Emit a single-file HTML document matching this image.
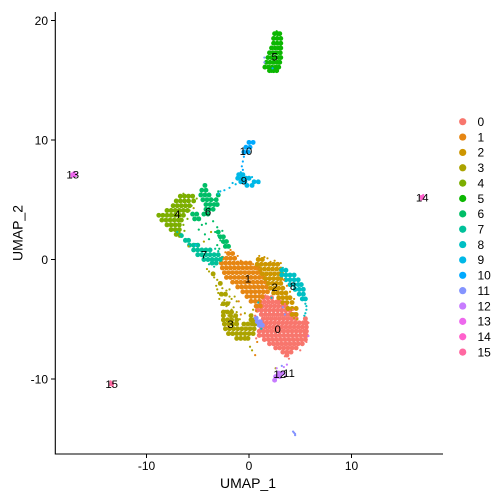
<!DOCTYPE html>
<html>
<head>
<meta charset="utf-8">
<style>
html,body{margin:0;padding:0;background:#fff;width:504px;height:504px;overflow:hidden}
svg{display:block}
text{font-family:"Liberation Sans",Arial,sans-serif;fill:#000}
</style>
</head>
<body>
<svg id="chart" xmlns="http://www.w3.org/2000/svg" width="504" height="504" viewBox="0 0 504 504"></svg>
<script>
// Each row is [y, x1, x2, ...] in UMAP coordinates.
const clusterNames = ['0','1','2','3','4','5','6','7','8','9','10','11','12','13','14','15'];
const clusterColors = ['#F8766D','#E68613','#CD9600','#ABA300','#7CAE00','#0CB702','#00BE67','#00C19A','#00BFC4','#00B8E7','#00A9FF','#8494FF','#C77CFF','#ED68ED','#FF61CC','#FF68A1'];
const xTicks = [-10,0,10];
const yTicks = [-10,0,10,20];
const labelX = [2.8,-0.1,2.5,-1.8,-7,2.5,-4,-4.4,4.3,-0.5,-0.3,3.9,3,-17.2,16.9,-13.4];
const labelY = [-5.8,-1.6,-2.3,-5.4,3.8,17,4,0.4,-2.2,6.6,9.1,-9.5,-9.6,7.1,5.2,-10.4];

const dense1 = [[0.5,-2,-1.6],[0.1,-2.6,-2.2,-1.8,-1.4],[-0.3,-2.7,-2.3,-1.9,-1.5,-1.1,-0.7,-0.3,0.1],[-0.7,-2.6,-2.2,-1.8,-1.4,-1,-0.6,-0.2,0.2,0.6,0.9],[-1.1,-2.4,-2,-1.6,-1.2,-0.8,-0.4,0,0.4,0.8,1.1],[-1.5,-2.2,-1.8,-1.4,-1,-0.6,-0.2,0.2,0.6,1,1.4],[-1.9,-1.6,-1.2,-0.8,-0.4,0,0.4,0.8,1.2,1.6],[-2.3,-1.1,-0.7,-0.3,0.1,0.5,0.9,1.3,1.7],[-2.7,-0.6,-0.2,0.2,0.6,1,1.4,1.8],[-3.1,-0.2,0.2,0.6,1,1.3],[-3.5,0.2,0.6,1],[-3.9,0.7,1.1]];
const dense2 = [[0,0.9,1.3],[-0.4,0.8,1.2,1.6,2,2.4,2.8],[-0.8,1.1,1.5,1.9,2.3,2.7,3.1],[-1.2,1.3,1.7,2.1,2.5,2.9,3.2],[-1.6,1.6,2,2.4,2.8,3.1],[-2,1.9,2.3,2.7,3.1],[-2.4,2.1,2.5,2.9,3.3],[-2.8,2.4,2.8,3.2,3.6],[-3.2,2.9,3.3,3.7,4],[-3.6,3.3,3.7,4.2],[-4.1,3.8,4.2,4.6],[-4.6,4.2,4.6]];
const dense0 = [[-3.2,1.4,1.8,2.2],[-3.55,1.1,1.5,1.9,2.3,2.7,3],[-3.9,0.9,1.3,1.7,2.1,2.5,2.9,3.3,3.6],[-4.25,0.8,1.2,1.6,2,2.4,2.8,3.2,3.6,4],[-4.6,1.2,1.6,2,2.4,2.8,3.2,3.6,4,4.4],[-4.95,1.4,1.8,2.2,2.6,3,3.4,3.8,4.2,4.6,5.5],[-5.3,1.3,1.7,2.1,2.5,2.9,3.3,3.7,4.1,4.5,4.9,5.3,5.6],[-5.65,1.2,1.6,2,2.4,2.8,3.2,3.6,4,4.4,4.8,5.2,5.6],[-6,1,1.4,1.8,2.2,2.6,3,3.4,3.8,4.2,4.6,5,5.4,5.6],[-6.35,1,1.4,1.8,2.2,2.6,3,3.4,3.8,4.2,4.6,5,5.4,5.6],[-6.7,1.5,1.9,2.3,2.7,3.1,3.5,3.9,4.3,4.7,5.1,5.5],[-7.05,2,2.4,2.8,3.2,3.6,4,4.4,4.8,5.2],[-7.4,2.6,3,3.4,3.8,4.2,4.6],[-7.75,3.3,3.7,4.1],[-8,3.7]];
const dense3 = [[-1.2,-3.5],[-2,-2.8],[-2.9,-2.7,-2.3],[-3.7,-2.5,-2.1],[-4.4,-2.5,-2.1,-1.7],[-4.7,-2.5,-1.8,-1.3,0.2],[-5.05,-2.5,-2.1,-1.7,-1.2,0.2,0.5],[-5.4,-2.4,-2,-1.6,-1.2,-0.5,-0.1,0.3,0.6],[-5.8,-2.3,-1.9,-1.5,-1.1,-0.7,-0.3,0.1,0.5],[-6.2,-2,-1.6,-1.2,-0.8,-0.4,0,0.4],[-6.6,-1.2,-0.8,-0.4,-0.1]];
const dense4 = [[5.3,-6.7,-6.3,-5.9,-5.5],[4.9,-7.1,-6.7,-6.3,-5.9,-5.4],[4.5,-7.4,-7,-6.6,-6.2,-5.8],[4.1,-8,-7.6,-7.2,-6.8,-6.4,-6],[3.7,-8.8,-8.4,-8,-7.6,-7.2,-6.8,-6.4],[3.3,-8.5,-8.1,-7.7,-7.3,-6.9,-6.6],[2.9,-8,-7.6,-7.2,-6.8],[2.5,-7.6,-7.2,-6.8],[2.1,-7.1,-6.8]];
const dense5 = [[18.9,2.5,2.8,3],[18.5,2.4,2.75,3.1],[18.1,2.4,2.75,3.1],[17.7,2.2,2.55,2.9,3.1],[17.3,2,2.35,2.7,3.05],[16.9,1.85,2.2,2.55,2.9,3.1],[16.5,1.7,2.05,2.4,2.75,3],[16.1,1.55,1.9,2.25,2.6,2.9],[15.8,2,2.4,2.7]];
const dense6 = [[6.2,-4.3],[5.8,-4.6,-4.2],[5.4,-4.7,-4.3,-3.9,-3],[5,-4.5,-4.1,-3.7,-3.2],[4.6,-4.2,-3.8,-3.4,-3.1],[4.2,-4.2,-3.9,-3.5],[3.8,-5.5,-5.1,-4.4,-4],[3.4,-5.3,-4.9],[2.3,-3],[1.9,-2.8,-2.5],[1.5,-2.5,-2.2],[1.1,-2.3,-2]];
const dense7 = [[2,-6.6],[1.6,-6.2,-5.9],[1.2,-5.8,-5.4,-5],[0.8,-5.4,-5,-4.6,-4.2,-3.8],[0.4,-5,-4.6,-4.2,-3.8,-3.4,-3],[0,-4.4,-4,-3.6,-3.2,-2.8],[-0.3,-3.6,-3.2]];
const dense8 = [[-0.9,3.2,3.6],[-1.3,3.2,3.6,4,4.4],[-1.7,3.6,4,4.4,4.8],[-2.1,4,4.4,4.8,5.1],[-2.5,4.5,4.9,5.3],[-2.9,4.9,5.3],[-3.3,5.2,5.5]];
const dense9 = [[7.1,-1,-0.6],[6.8,-1.1,-0.7,-0.3,0],[6.5,-0.8,-0.4,0.5,0.9],[6.2,-0.2,0.3]];
const dense10 = [[9.8,0,0.4],[9.4,-0.3,0.1],[9,-0.5,-0.1]];
const dense11 = [[-4.9,0.7],[-5.2,0.8,1.1],[-5.5,1,1.3]];
const dense12 = [[-9.5,2.9,3.3],[-9.8,2.6,3],[-10.1,2.5]];
const dense13 = [[7.1,-17.2,-17]];
const dense14 = [[5.2,16.9]];
const dense15 = [[-10.4,-13.4]];

const sparse0 = [[-3,1.6],[-3.7,3.5],[-4.2,4.3],[-8.1,3.5],[-8.3,3.9],[-7.6,5],[-6.9,5.6],[-4.7,0.6],[-6.6,0.7],[-5.3,5.8]];
const sparse1 = [[0.8,-1.8],[0.6,-2.3],[0.3,-1.1],[-0.1,-0.8],[-0.4,0.4],[-0.8,1],[-4.3,0.7],[-4.6,-0.8],[-3.5,-1],[-8,0.6],[-1.7,3.4],[-2.2,3.7],[-6.9,0.8],[-5.6,-2]];
const sparse2 = [[0.3,1],[0.2,1.5],[-0.2,2.1],[-0.3,3.1],[-4.9,4.4],[-5,4.7],[-3.3,4.4],[-2.7,4],[0.1,1.8],[-0.1,2.5]];
const sparse3 = [[-0.8,-4.1],[-1,-3.9],[-1.2,-3.6],[-1.5,-3.4],[-1.7,-3.1],[-2,-2.8],[-2.2,-3.2],[-2.5,-3.1],[-2.4,-2.6],[-2.8,-3],[-3,-2.6],[-3,-2.2],[-3.3,-2.9],[-3.4,-2.4],[-3.6,-1.9],[-3.8,-2.7],[-3.9,-2.2],[-4,-1.5],[-4.3,-2.3],[-4.2,-1.7],[-4.4,-1.2],[-4.6,-2.5],[-4.7,-2],[-4.8,-1.5],[-4.2,0.4],[-4.6,0.3],[-5,0.2],[-5,-0.9],[-5.2,-1.3],[-3.3,-1.7],[-7.3,0.1],[-7.6,0.3],[-9.1,2.6],[-2.5,-1.9],[1.5,-4.4],[2.3,-3.7],[1.1,-5.9],[4.3,-5.4],[-2.6,-2.2],[-3.1,-1.4],[-3.5,-1.2],[-4,-0.8],[-4.5,-0.4],[-3.1,-1.9],[-2.8,-2.3],[-3.6,-2.2]];
const sparse4 = [[5.5,-6.4],[5.2,-5.5],[5.1,-5.1],[4.5,-5.6],[4.1,-5.8],[3.4,-6],[2.9,-6.4],[2.4,-6.3],[1.9,-6.8]];
const sparse5 = [[19.1,2.7],[15.7,2.2]];
const sparse6 = [[5.7,-3],[5,-3.5],[4.3,-3.5],[3,-4.2],[2.7,-3.1],[2.3,-3.3],[2,-3],[1.9,-2.6],[1.6,-2.8],[1.4,-2.4],[1.1,-2.1],[2.4,-2.6],[1.5,-2.1],[3.2,-3.5],[2.9,-4.6],[2.5,-4.9],[2.1,-4.3],[1.7,-3.9],[1.2,-3.1],[0.9,-2.9]];
const sparse7 = [[2.3,-7],[1.3,-5.2],[0.9,-3.3],[0.7,-3],[-0.4,-3.9],[-0.6,-3.4],[0.2,-2.6]];
const sparse8 = [[-0.7,3.3],[-3.7,5.5],[-3.9,5.6],[-4.2,5.6],[-4.5,5.5],[-4.7,5.4],[-5.8,1.2],[-3.2,2.2],[-3.6,0.9]];
const sparse9 = [[6.4,-1.6],[6.3,-1.3],[6,-1.9],[5.8,-2.4],[5.7,-2.8],[5.5,-3],[7.3,-0.8],[6.9,0.3],[6.4,1],[1.2,-5.2]];
const sparse10 = [[8.6,-0.5],[8.2,-0.6],[7.8,-0.7],[7.5,-0.6],[8.9,-0.4],[16,2.3]];
const sparse11 = [[-14.4,4.3],[-14.5,4.4],[-14.6,4.5],[-14.7,4.5],[16.5,1.5],[16.9,1.5],[-4,3.3],[-4.6,3.5],[-8.9,3.2]];
const sparse12 = [[-9.1,2.7],[-9,3.4],[-8.8,3.7],[-9.9,2.7],[-9.7,3.6],[-6.4,5.8]];
const sparse13 = [[7.3,-17.1],[6.9,-17.3],[7,-16.9]];
const sparse14 = [[5.4,17],[5,16.8],[5.3,16.7]];
const sparse15 = [[-10.2,-13.5],[-10.6,-13.3],[-10.5,-13.6]];

const denseRows = [dense0,dense1,dense2,dense3,dense4,dense5,dense6,dense7,dense8,dense9,dense10,dense11,dense12,dense13,dense14,dense15];
const sparsePoints = [sparse0,sparse1,sparse2,sparse3,sparse4,sparse5,sparse6,sparse7,sparse8,sparse9,sparse10,sparse11,sparse12,sparse13,sparse14,sparse15];

const xScale = v => 249 + v * 10.25;
const yScale = v => 259.5 - v * 11.95;
const svg = document.getElementById('chart');
const NS = 'http://www.w3.org/2000/svg';
function make(tag, attrs, parent){
  const el = document.createElementNS(NS, tag);
  for (const k in attrs) el.setAttribute(k, attrs[k]);
  parent.appendChild(el);
  return el;
}
const pointsLayer = make('g', {}, svg);


denseRows.forEach((rows, c) => {
  rows.forEach(row => {
    row.slice(1).forEach(x => {
      const dot = make('circle', {cx: xScale(x), cy: yScale(row[0]), r: 2.45, fill: clusterColors[c]}, pointsLayer);
      
      
    });
  });
});
sparsePoints.forEach((pts, c) => {
  pts.forEach(p => {
    const dot = make('circle', {cx: xScale(p[1]), cy: yScale(p[0]), r: 1.1, fill: clusterColors[c]}, pointsLayer);
    
    
  });
});

const yAxis = make('line', {x1: 55.3, x2: 55.3, y1: 12, y2: 454.5, stroke: '#000', 'stroke-width': 1.1}, svg);


const xAxis = make('line', {x1: 55, x2: 443, y1: 454, y2: 454, stroke: '#000', 'stroke-width': 1.1}, svg);



xTicks.forEach(t => {
  const tick = make('line', {x1: xScale(t), x2: xScale(t), y1: 454, y2: 458, stroke: '#000', 'stroke-width': 1}, svg);
  
  
  const lab = make('text', {x: xScale(t), y: 470, 'text-anchor': 'middle', 'font-size': 12}, svg);
  
  
  lab.textContent = String(t);
});
yTicks.forEach(t => {
  const tick = make('line', {x1: 51, x2: 55, y1: yScale(t), y2: yScale(t), stroke: '#000', 'stroke-width': 1}, svg);
  
  
  const lab = make('text', {x: 48, y: yScale(t) + 4.3, 'text-anchor': 'end', 'font-size': 12}, svg);
  
  
  lab.textContent = String(t);
});

clusterNames.forEach((name, i) => {
  const lab = make('text', {x: xScale(labelX[i]), y: yScale(labelY[i]) + 4, 'text-anchor': 'middle', 'font-size': 11.4}, svg);
  
  
  lab.textContent = name;
  const cy = 121.7 + i * 15.36;
  const key = make('circle', {cx: 462.7, cy: cy, r: 3.6, fill: clusterColors[i]}, svg);
  
  
  const txt = make('text', {x: 477.5, y: cy + 4.3, 'font-size': 12}, svg);
  
  
  txt.textContent = name;
});

const xTitle = make('text', {x: 248, y: 488, 'text-anchor': 'middle', 'font-size': 14}, svg);


xTitle.textContent = 'UMAP_1';
const yTitle = make('text', {x: 0, y: 0, 'text-anchor': 'middle', 'font-size': 14, transform: 'translate(22.5 233) rotate(-90)'}, svg);


yTitle.textContent = 'UMAP_2';
</script>
</body>
</html>
